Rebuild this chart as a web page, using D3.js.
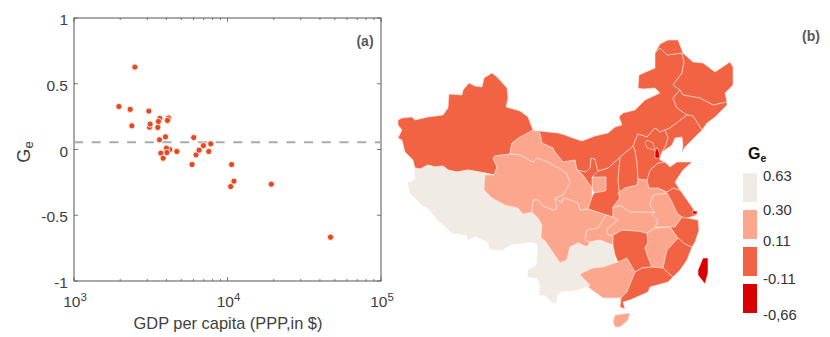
<!DOCTYPE html>
<html>
<head>
<meta charset="utf-8">
<script src="https://cdn.jsdelivr.net/npm/d3@7"></script>
<style>
body { margin: 0; background: #fff; }
text { font-family: "Liberation Sans", Arial, sans-serif; }
</style>
</head>
<body>
<div class="chart"></div>
<script>
// scatter values
const gdp = [2491, 1961, 2323, 2382, 3073, 3103, 3134, 3623, 3550, 3516, 4125, 4064, 3606, 3945, 4207, 4004, 4027, 3681, 3807, 4677, 5875, 6026, 6237, 6531, 6966, 7551, 7773, 10640, 11020, 10490, 19280, 46880];
const ge = [0.627, 0.327, 0.305, 0.18, 0.292, 0.17, 0.193, 0.236, 0.213, 0.168, 0.239, 0.221, 0.074, 0.096, 0, 0.01, -0.023, -0.028, -0.066, -0.015, -0.114, 0.091, -0.041, -0.005, 0.03, -0.015, 0.043, -0.114, -0.241, -0.282, -0.264, -0.667];
const meanGe = 0.056;
const yTicks = [1, 0.5, 0, -0.5, -1];
const yTickLabels = ['1', '0.5', '0', '-0.5', '-1'];
const xTicks = [1e3, 1e4, 1e5];
const xTickExp = ['3', '4', '5'];

// legend
const legendLabels = ['0.63', '0.30', '0.11', '-0.11', '-0,66'];
const classColors = ['#f1ebe5', '#fca68d', '#f26343', '#d90000'];

// province outlines, traced in map units, and the Ge class of each one
const provinceNames = ['Xinjiang', 'Tibet', 'Qinghai', 'Gansu', 'GansuEast', 'Ningxia', 'Shaanxi', 'Sichuan', 'Chongqing', 'Yunnan', 'Guizhou', 'Guangxi', 'Hunan', 'Hubei', 'Henan', 'Anhui', 'Jiangxi', 'Guangdong', 'Hainan', 'Fujian', 'Zhejiang', 'Jiangsu', 'Shandong', 'Shanxi', 'InnerMongolia', 'Heilongjiang', 'Jilin', 'Liaoning', 'Hebei', 'Beijing', 'Tianjin', 'Shanghai', 'Taiwan'];
const provinceClass = [2, 0, 1, 1, 1, 2, 2, 1, 1, 0, 0, 1, 2, 1, 1, 1, 1, 2, 1, 2, 2, 2, 2, 2, 2, 2, 2, 2, 2, 2, 3, 3, 3];
const provinceShapes = [
  [[398,120],[402,118],[412,117],[415,120],[428,117],[443,115],[448,108],[449,94],[462,95],[463,90],[469,83],[475,86],[482,87],[484,78],[492,73],[497,77],[507,88],[508,98],[506,107],[520,111],[528,117],[533,130],[530,136],[520,137],[512,143],[510,154],[495,156],[493,158],[497,167],[494,175],[485,173],[468,170],[457,172],[448,170],[443,166],[435,167],[428,165],[420,169],[415,168],[413,160],[405,152],[402,140],[398,138],[402,130],[398,125]],
  [[415,168],[420,169],[428,165],[435,167],[443,166],[448,170],[457,172],[468,170],[485,173],[494,175],[485,175],[484,190],[492,198],[505,205],[518,208],[523,214],[532,212],[538,218],[542,225],[541,238],[537,243],[530,242],[520,243],[510,245],[502,250],[490,249],[488,242],[475,236],[468,240],[467,235],[452,233],[438,220],[428,208],[422,205],[410,193],[408,183],[415,180]],
  [[495,156],[510,154],[520,155],[533,162],[537,158],[548,162],[567,173],[570,183],[563,195],[555,198],[557,209],[553,210],[543,206],[538,200],[533,200],[532,212],[523,214],[518,208],[505,205],[492,198],[484,190],[485,175],[494,175],[497,167],[493,158]],
  [[510,154],[512,143],[520,137],[533,130],[540,133],[542,143],[553,148],[555,152],[563,162],[575,160],[577,170],[583,175],[592,188],[592,197],[588,209],[580,210],[578,203],[570,200],[563,198],[562,203],[555,198],[563,195],[570,183],[567,173],[548,162],[537,158],[533,162],[520,155]],
  [[592,177],[606,177],[606,190],[605,191],[594,193],[592,188]],
  [[577,170],[586,172],[590,168],[591,158],[595,159],[598,171],[592,177],[592,188],[583,175]],
  [[598,171],[608,168],[620,157],[618,180],[620,198],[613,207],[613,217],[606,215],[588,209],[592,197],[594,193],[605,191],[606,190],[606,177],[592,177]],
  [[533,200],[538,200],[543,206],[553,210],[557,209],[555,198],[562,203],[563,198],[570,200],[578,203],[580,210],[588,209],[606,215],[598,228],[587,230],[585,240],[590,242],[587,247],[578,243],[570,247],[567,260],[560,263],[545,241],[541,238],[542,225],[538,218],[532,212]],
  [[606,215],[613,217],[618,220],[607,229],[608,235],[613,235],[613,245],[607,243],[600,240],[590,242],[585,240],[587,230],[598,228]],
  [[537,243],[541,238],[545,241],[560,263],[567,260],[570,247],[578,243],[587,247],[573,252],[573,258],[577,263],[580,275],[590,285],[580,289],[570,291],[562,291],[557,295],[556,303],[552,302],[545,295],[539,295],[541,287],[537,278],[528,277],[528,270],[537,265],[538,250]],
  [[573,252],[587,247],[590,242],[600,240],[607,243],[613,245],[615,255],[615,263],[603,267],[593,268],[582,273],[580,275],[577,263],[573,258]],
  [[582,273],[593,268],[603,267],[615,263],[618,262],[627,258],[635,272],[627,292],[621,298],[603,298],[588,287],[590,285],[580,275]],
  [[613,235],[622,230],[638,231],[647,233],[648,242],[645,248],[648,257],[652,267],[642,268],[635,272],[627,258],[618,262],[615,255],[613,245]],
  [[613,208],[620,205],[630,212],[650,212],[658,220],[655,228],[647,233],[638,231],[622,230],[613,235],[608,235],[607,229],[618,220],[613,217]],
  [[618,193],[625,188],[637,185],[638,179],[647,180],[649,188],[658,188],[667,193],[653,195],[650,205],[655,213],[650,212],[630,212],[620,205],[613,208],[613,207],[620,198]],
  [[650,205],[653,195],[667,193],[672,202],[677,213],[682,217],[675,227],[670,227],[658,227],[655,228],[658,220],[650,212],[655,213]],
  [[647,233],[655,228],[670,227],[678,238],[667,250],[663,268],[652,267],[648,257],[645,248],[648,242]],
  [[635,272],[642,268],[652,267],[663,268],[673,277],[668,282],[650,287],[648,292],[630,300],[623,302],[625,309],[620,307],[621,298],[627,292]],
  [[613,322],[615,315],[630,313],[628,320],[620,327],[615,327]],
  [[678,238],[685,244],[692,247],[687,260],[680,270],[673,277],[663,268],[667,250]],
  [[682,217],[687,218],[698,220],[699,230],[695,242],[692,247],[685,244],[678,238],[670,227],[675,227]],
  [[658,188],[667,192],[673,188],[680,190],[692,207],[697,215],[687,218],[682,217],[677,213],[672,202],[667,193]],
  [[647,180],[650,170],[658,163],[665,162],[670,167],[677,162],[692,162],[683,170],[675,182],[680,190],[673,188],[667,192],[658,188],[649,188]],
  [[620,157],[633,146],[635,150],[637,163],[638,179],[637,185],[625,188],[618,193],[620,198],[618,180]],
  [[533,130],[538,131],[558,133],[565,135],[570,137],[582,141],[595,136],[608,133],[615,127],[622,125],[619,117],[623,113],[635,110],[645,100],[660,93],[655,88],[643,89],[638,88],[639,75],[655,68],[655,53],[660,48],[667,55],[682,53],[684,62],[682,73],[673,85],[680,90],[673,98],[677,108],[687,115],[670,128],[665,130],[660,132],[655,128],[647,137],[638,134],[633,146],[620,157],[608,168],[598,171],[595,159],[591,158],[590,168],[586,172],[577,170],[575,160],[563,162],[555,152],[553,148],[542,143],[540,133]],
  [[655,53],[660,44],[668,40],[678,40],[683,53],[693,62],[703,63],[715,72],[730,62],[733,67],[733,85],[725,93],[727,102],[713,105],[700,98],[683,95],[680,90],[673,85],[682,73],[684,62],[682,53],[667,55],[660,48]],
  [[673,98],[680,90],[683,95],[700,98],[713,105],[727,102],[727,105],[715,117],[707,123],[702,130],[693,116],[687,115],[677,108]],
  [[665,130],[670,128],[687,115],[693,116],[702,130],[685,147],[682,152],[683,145],[682,137],[675,138],[672,145],[662,152],[665,147],[668,138]],
  [[633,146],[638,134],[647,137],[655,128],[660,132],[665,130],[668,138],[665,147],[662,152],[660,157],[660,160],[665,162],[658,163],[650,170],[647,180],[638,179],[637,163],[635,150]],
  [[647,140],[653,143],[655,150],[647,148],[645,143]],
  [[655,152],[657,147],[659,152],[660,158],[655,158]],
  [[692,211],[697,211],[697,214],[693,214]],
  [[703,258],[708,258],[708,273],[705,284],[698,275],[698,270]]
];

const svg = d3.select('.chart').append('svg')
    .attr('width', 830)
    .attr('height', 337)
    .style('display', 'block');

const textColor = '#404040';
const plot = {left: 74, right: 381, top: 18, bottom: 281};

const xScale = d3.scaleLog().domain([1e3, 1e5]).range([plot.left, plot.right]);
const yScale = d3.scaleLinear().domain([-1, 1]).range([plot.bottom, plot.top]);

// box
svg.append('rect')
    .attr('x', plot.left).attr('y', plot.top)
    .attr('width', plot.right - plot.left).attr('height', plot.bottom - plot.top)
    .attr('fill', 'none').attr('stroke', '#555').attr('stroke-width', 1);

// ticks on all four sides, pointing in
const minor = d3.range(3, 5).flatMap(e => d3.range(2, 10).map(m => m * Math.pow(10, e)));
minor.forEach(v => {
    [[plot.bottom, plot.bottom - 2], [plot.top, plot.top + 2]].forEach(p => {
        svg.append('line').attr('x1', xScale(v)).attr('x2', xScale(v))
            .attr('y1', p[0]).attr('y2', p[1]).attr('stroke', '#555').attr('stroke-width', 0.8);
    });
});
xTicks.forEach((v, i) => {
    [[plot.bottom, plot.bottom - 4], [plot.top, plot.top + 4]].forEach(p => {
        svg.append('line').attr('x1', xScale(v)).attr('x2', xScale(v))
            .attr('y1', p[0]).attr('y2', p[1]).attr('stroke', '#555').attr('stroke-width', 0.8);
    });
    const t = svg.append('text').attr('x', xScale(v) + 1).attr('y', 307)
        .attr('text-anchor', 'middle').attr('font-size', 15.5).attr('fill', textColor);
    t.append('tspan').text('10');
    t.append('tspan').text(xTickExp[i]).attr('font-size', 11.5).attr('dy', -6);
});
yTicks.forEach((v, i) => {
    [[plot.left, plot.left + 4], [plot.right, plot.right - 4]].forEach(p => {
        svg.append('line').attr('y1', yScale(v)).attr('y2', yScale(v))
            .attr('x1', p[0]).attr('x2', p[1]).attr('stroke', '#555').attr('stroke-width', 0.8);
    });
    svg.append('text').attr('x', 68).attr('y', yScale(v) + 7)
        .attr('text-anchor', 'end').attr('font-size', 15.5).attr('fill', textColor)
        .text(yTickLabels[i]);
});

// dashed mean line
svg.append('line')
    .attr('x1', plot.left).attr('x2', plot.right)
    .attr('y1', yScale(meanGe)).attr('y2', yScale(meanGe))
    .attr('stroke', '#aaa').attr('stroke-width', 2).attr('stroke-dasharray', '9,8.7');

svg.selectAll('.dot')
    .data(gdp)
    .enter()
    .append('circle')
    .attr('class', 'dot')
    .attr('cx', d => xScale(d))
    .attr('cy', (d, i) => yScale(ge[i]))
    .attr('r', 3.1)
    .attr('fill', '#e8481c')
    .attr('stroke', '#eeeeee')
    .attr('stroke-width', 1);

// axis titles
svg.append('text').attr('x', 228).attr('y', 329)
    .attr('text-anchor', 'middle').attr('font-size', 16.4).attr('fill', textColor)
    .text('GDP per capita (PPP,in $)');

const yTitle = svg.append('text')
    .attr('transform', 'translate(30,152) rotate(-90)')
    .attr('text-anchor', 'middle').attr('font-size', 18).attr('fill', textColor);
yTitle.append('tspan').text('G');
yTitle.append('tspan').text('e').attr('font-size', 13).attr('dy', 3);

svg.append('text').attr('x', 365).attr('y', 46)
    .attr('text-anchor', 'middle').attr('font-size', 14).attr('font-weight', 'bold').attr('fill', '#595959')
    .text('(a)');
svg.append('text').attr('x', 811).attr('y', 41)
    .attr('text-anchor', 'middle').attr('font-size', 14).attr('font-weight', 'bold').attr('fill', '#595959')
    .text('(b)');

// map
const mapX = d3.scaleLinear().domain([398, 733]).range([398, 733]);
const mapY = d3.scaleLinear().domain([40, 327]).range([40, 327]);
const outline = d3.line().x(d => mapX(d[0])).y(d => mapY(d[1])).curve(d3.curveLinearClosed);

svg.append('g').selectAll('path')
    .data(provinceShapes)
    .enter()
    .append('path')
    .attr('class', (d, i) => provinceNames[i])
    .attr('d', outline)
    .attr('fill', (d, i) => classColors[provinceClass[i]])
    .attr('stroke', '#fde4da')
    .attr('stroke-width', 0.6)
    .attr('stroke-linejoin', 'round');

// legend
svg.selectAll('.swatch')
    .data(classColors)
    .enter()
    .append('rect')
    .attr('class', 'swatch')
    .attr('x', 743)
    .attr('y', (d, i) => 173 + i * 37)
    .attr('width', 14)
    .attr('height', 29)
    .attr('fill', d => d);

const legendTextY = [181, 215, 246, 284, 320];
svg.selectAll('.legend-label')
    .data(legendLabels)
    .enter()
    .append('text')
    .attr('class', 'legend-label')
    .attr('x', 763)
    .attr('y', (d, i) => legendTextY[i])
    .attr('font-size', 14.8)
    .attr('fill', '#333')
    .text(d => d);

const legendTitle = svg.append('text').attr('x', 748).attr('y', 159)
    .attr('font-size', 16).attr('font-weight', 'bold').attr('fill', '#111');
legendTitle.append('tspan').text('G');
legendTitle.append('tspan').text('e').attr('font-size', 10.5).attr('dy', 3);
</script>
</body>
</html>
